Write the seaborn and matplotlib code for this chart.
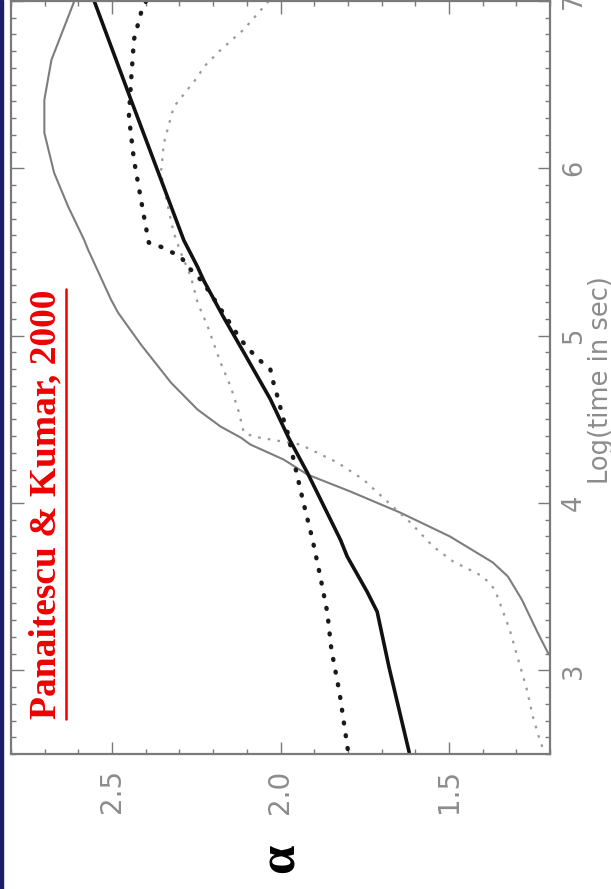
import matplotlib
matplotlib.use("Agg")
import matplotlib.pyplot as plt
from matplotlib.ticker import MultipleLocator, FormatStrFormatter
from matplotlib.lines import Line2D
from matplotlib.patches import Rectangle
import seaborn as sns
import pandas as pd

# ---- data: spectral index alpha vs log(time in sec) ----
thick_solid_logt = [7.0, 6.41, 5.57, 5.41, 5.33, 5.11, 4.90, 4.62, 4.39, 4.18, 3.78, 3.68, 3.47, 3.35, 3.02, 2.51]
thick_solid_alpha = [2.553, 2.444, 2.287, 2.246, 2.228, 2.169, 2.109, 2.030, 1.976, 1.920, 1.822, 1.802, 1.743, 1.713, 1.678, 1.618]

thick_dot_logt = [7.0, 6.93, 6.77, 6.51, 6.31, 6.05, 5.71, 5.556, 5.531, 5.472, 5.412, 5.322, 5.096, 4.976,
                  4.875, 4.797, 4.719, 4.636, 4.499, 4.421, 4.212, 4.003, 3.782, 3.561, 3.346, 3.125, 2.869, 2.51]
thick_dot_alpha = [2.399, 2.414, 2.435, 2.444, 2.450, 2.435, 2.405, 2.391, 2.355, 2.296, 2.275, 2.231, 2.157, 2.118,
                   2.074, 2.030, 2.021, 2.009, 1.991, 1.979, 1.956, 1.932, 1.905, 1.882, 1.861, 1.849, 1.825, 1.799]

thin_solid_logt = [7.0, 6.648, 6.409, 6.212, 5.973, 5.770, 5.573, 5.513, 5.215, 5.137, 4.946, 4.719, 4.558, 4.457,
                   4.391, 4.349, 4.260, 4.170, 4.069, 3.943, 3.800, 3.645, 3.561, 3.424, 3.227, 3.096]
thin_solid_alpha = [2.612, 2.680, 2.701, 2.701, 2.672, 2.630, 2.583, 2.571, 2.503, 2.482, 2.414, 2.325, 2.246, 2.178,
                    2.118, 2.089, 1.991, 1.920, 1.793, 1.645, 1.497, 1.370, 1.325, 1.284, 1.237, 1.204]

thin_dot_logt = [7.0, 6.83, 6.707, 6.606, 6.546, 6.367, 6.152, 5.973, 5.770, 5.615, 5.496, 5.352, 5.197, 5.054,
                 4.839, 4.696, 4.546, 4.421, 4.397, 4.349, 4.242, 4.140, 4.009, 3.884, 3.740, 3.651, 3.561,
                 3.484, 3.245, 2.887, 2.725, 2.588, 2.504]
thin_dot_alpha = [2.035, 2.109, 2.178, 2.228, 2.246, 2.317, 2.346, 2.355, 2.334, 2.317, 2.296, 2.266, 2.246, 2.216,
                  2.178, 2.148, 2.124, 2.109, 2.080, 1.941, 1.831, 1.754, 1.683, 1.615, 1.547, 1.488, 1.399,
                  1.364, 1.320, 1.269, 1.251, 1.231, 1.216]

alpha_ticks = [1.5, 2.0, 2.5]
logt_ticks = [3, 4, 5, 6, 7]
xlabel_text = "Log(time in sec)"
ylabel_text = "α"
citation = "Panaitescu & Kumar, 2000"

# ---- figure ----
sns.set_style("white")
plt.rcParams["font.family"] = ["DejaVu Sans"]

W, H = 611, 889
fig = plt.figure(figsize=(W / 100, H / 100), dpi=100)
fig.patch.set_facecolor("white")
ax = fig.add_axes([11 / W, 1 - 754 / H, (550 - 11) / W, (754 - 1) / H])

axis_gray = "#7a7a7a"
label_gray = "#8c8c8c"

def draw(logt, alpha, **kw):
    df = pd.DataFrame({"alpha": alpha, "logt": logt})
    sns.lineplot(data=df, x="alpha", y="logt", sort=False, estimator=None, ax=ax, **kw)

draw(thin_solid_logt, thin_solid_alpha, color="#7d7d7d", linewidth=1.5)
draw(thin_dot_logt, thin_dot_alpha, color="#9a9a9a", linewidth=1.6, linestyle=(0, (1.2, 3.2)))
draw(thick_dot_logt, thick_dot_alpha, color="#1a1a1a", linewidth=3.2, linestyle=(0, (0.2, 2.7)),
     dash_capstyle="round")
draw(thick_solid_logt, thick_solid_alpha, color="#111111", linewidth=2.6)

ax.set_xlim(2.8, 1.2)
ax.set_ylim(2.5, 7.0)

ax.set_xticks(alpha_ticks)
ax.set_yticks(logt_ticks)
ax.xaxis.set_minor_locator(MultipleLocator(0.1))
ax.yaxis.set_minor_locator(MultipleLocator(0.1))
ax.xaxis.set_major_formatter(FormatStrFormatter("%.1f"))
ax.yaxis.set_major_formatter(FormatStrFormatter("%d"))

ax.tick_params(which="both", direction="in", top=True, bottom=True, left=True, right=True,
               labelleft=False, labelright=True, color=axis_gray, width=1.0)
ax.tick_params(which="major", length=9)
ax.tick_params(which="minor", length=3.5)
ax.tick_params(axis="x", which="major", pad=11, labelsize=20, labelcolor=label_gray, labelrotation=90)
ax.tick_params(axis="y", which="major", pad=8, labelsize=18.5, labelcolor=label_gray, labelrotation=90)
for lab in ax.get_yticklabels():
    lab.set_verticalalignment("center")

for sp in ax.spines.values():
    sp.set_color(axis_gray)
    sp.set_linewidth(1.6)

# alpha axis label (bottom)
ax.set_xlabel(ylabel_text, fontsize=38, fontweight="bold", family="Liberation Serif",
              rotation=90, labelpad=22, color="black")
ax.set_ylabel("")
# time axis label (right side)
fig.text(601 / W, 1 - 380 / H, xlabel_text, rotation=90, fontsize=18.5, color=label_gray,
         ha="center", va="center")

# citation text (rotated, underlined)
txt = fig.text(46 / W, 1 - 504 / H, citation, rotation=90, color="#ee0000", fontsize=27,
               fontweight="bold", family="Liberation Serif", ha="center", va="center")
fig.canvas.draw()
bb = txt.get_window_extent()
ux = (bb.x1 + 2) / W
fig.add_artist(Line2D([ux, ux], [bb.y0 / H, bb.y1 / H], color="#ee0000", linewidth=1.8,
                      transform=fig.transFigure))

# navy strip at left edge
fig.add_artist(Rectangle((0, 0), 3 / W, 1, transform=fig.transFigure, color="#1b1f6b", zorder=10))

fig.savefig("out.png", dpi=100)
